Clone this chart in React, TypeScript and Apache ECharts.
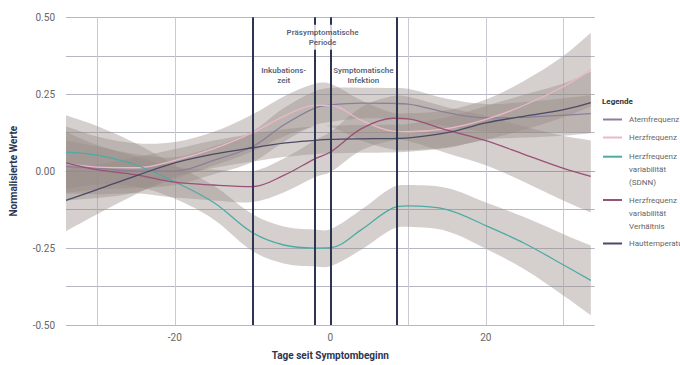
import React, { useEffect, useRef } from 'react';
import * as echarts from 'echarts';

// Days since symptom onset (x positions of the sampled values)
const days = [-34, -30, -25, -20, -15, -10, -6, -2, 0, 4, 8, 10, 15, 20, 25, 30, 33.5];

// Normalised values per series
const atemfrequenz = [0.015, 0.01, 0.0, 0.0, 0.035, 0.08, 0.15, 0.205, 0.215, 0.221, 0.22, 0.218, 0.19, 0.173, 0.175, 0.182, 0.187];
const herzfrequenz = [0.025, 0.013, 0.011, 0.035, 0.073, 0.125, 0.178, 0.214, 0.214, 0.165, 0.13, 0.128, 0.138, 0.168, 0.215, 0.275, 0.33];
const hrvSdnn = [0.062, 0.052, 0.02, -0.035, -0.102, -0.2, -0.24, -0.25, -0.249, -0.19, -0.12, -0.113, -0.125, -0.177, -0.235, -0.305, -0.355];
const hrvVerhaeltnis = [0.027, 0.005, -0.012, -0.036, -0.045, -0.05, -0.014, 0.04, 0.062, 0.138, 0.172, 0.17, 0.133, 0.099, 0.054, 0.009, -0.017];
const hauttemperatur = [-0.095, -0.06, -0.015, 0.027, 0.055, 0.076, 0.091, 0.1, 0.103, 0.105, 0.106, 0.108, 0.125, 0.157, 0.179, 0.2, 0.223];

// Half widths of the confidence bands
const atemBand = [0.085, 0.07, 0.055, 0.045, 0.045, 0.05, 0.055, 0.055, 0.055, 0.05, 0.05, 0.05, 0.045, 0.045, 0.05, 0.055, 0.06];
const herzBand = [0.12, 0.1, 0.08, 0.06, 0.055, 0.06, 0.065, 0.07, 0.07, 0.065, 0.06, 0.06, 0.06, 0.065, 0.08, 0.1, 0.12];
const sdnnBand = [0.12, 0.095, 0.07, 0.055, 0.055, 0.06, 0.06, 0.06, 0.06, 0.065, 0.068, 0.068, 0.07, 0.075, 0.085, 0.1, 0.113];
const verhBand = [0.1, 0.08, 0.06, 0.05, 0.05, 0.05, 0.055, 0.06, 0.065, 0.07, 0.072, 0.072, 0.075, 0.08, 0.09, 0.105, 0.117];
const hautBand = [0.1, 0.08, 0.06, 0.045, 0.045, 0.045, 0.045, 0.045, 0.045, 0.045, 0.045, 0.045, 0.05, 0.055, 0.07, 0.085, 0.1];

const seriesNames = [
  'Atemfrequenz',
  'Herzfrequenz',
  'Herzfrequenz\nvariabilität\n(SDNN)',
  'Herzfrequenz\nvariabilität\nVerhältnis',
  'Hauttemperatur',
];
const seriesValues = [atemfrequenz, herzfrequenz, hrvSdnn, hrvVerhaeltnis, hauttemperatur];
const seriesBands = [atemBand, herzBand, sdnnBand, verhBand, hautBand];
const seriesColors = ['#8a7e9c', '#edb7ca', '#4eaaa5', '#9a5077', '#4a4966'];

// Phase boundaries and labels
const phaseBounds = [-10, -2, 0, 8.5];
const phaseLabels = ['Inkubations-\nzeit', 'Präsymptomatische\nPeriode', 'Symptomatische\nInfektion'];

// Axis ticks
const xGridValues = [-30, -20, -10, 0, 10, 20, 30];
const xLabelValues = [-20, 0, 20];

// layout constants
const phaseLabelY = [0.311, 0.435, 0.311];
const legendTops = [113, 131, 124.2, 167.5, 237];
const FONT = 'Roboto, "Noto Sans", sans-serif';
const BAND_COLOR = 'rgba(150,138,132,0.40)';

function makeBand(name: string, center: number[], half: number[]) {
  return {
    type: 'custom',
    name,
    z: 2,
    silent: true,
    clip: true,
    data: days.map((d, i) => [d, center[i] - half[i], center[i] + half[i]]),
    encode: { x: 0, y: [1, 2] },
    renderItem: (params: any, api: any) => {
      if (params.dataIndex !== 0) return null;
      const up = days.map((d, i) => api.coord([d, center[i] + half[i]]));
      const lo = days.map((d, i) => api.coord([d, center[i] - half[i]])).reverse();
      const pts = [up[0], ...up, up[up.length - 1], lo[0], ...lo, lo[lo.length - 1]];
      return {
        type: 'polygon',
        shape: { points: pts, smooth: 0.35 },
        style: { fill: BAND_COLOR },
      };
    },
  };
}

export default function App() {
  const ref = useRef<HTMLDivElement>(null);

  useEffect(() => {
    if (!ref.current) return;
    const chart = echarts.init(ref.current, null, { renderer: 'svg' });

    const bands = seriesNames.map((n, i) => makeBand('band-' + i, seriesValues[i], seriesBands[i]));
    const lines = seriesNames.map((n, i) => ({
      type: 'line',
      name: n,
      data: days.map((d, j) => [d, seriesValues[i][j]]),
      smooth: 0.35,
      symbol: 'none',
      color: seriesColors[i],
      lineStyle: { width: 1.3, color: seriesColors[i] },
      z: 3,
      silent: true,
    }));

    // one legend per entry so multi-line names keep their icon on the first line
    const legends = seriesNames.map((n, i) => ({
      data: [n],
      orient: 'vertical',
      left: 603,
      top: legendTops[i],
      padding: 0,
      itemWidth: 19,
      itemHeight: 2,
      icon: 'rect',
      selectedMode: false,
      formatter: (name: string) => (name.includes('\n') ? '\n\n' + name : name),
      textStyle: {
        fontFamily: FONT,
        fontSize: 8,
        color: '#666',
        lineHeight: 13,
        padding: [0, 0, 0, 2],
      },
    }));

    const option: any = {
      animation: false,
      textStyle: { fontFamily: FONT },
      title: {
        text: 'Legende',
        left: 602,
        top: 97,
        padding: 0,
        textStyle: { fontFamily: FONT, fontSize: 8, fontWeight: 'bold', color: '#333' },
      },
      legend: legends,
      grid: { left: 64.3, right: 85.3, top: 17.3, bottom: 33.3, containLabel: false },
      xAxis: {
        type: 'value',
        min: -34,
        max: 34,
        interval: 2,
        name: 'Tage seit Symptombeginn',
        nameLocation: 'middle',
        nameGap: 25,
        nameTextStyle: { fontFamily: FONT, fontSize: 10, fontWeight: 'bold', color: '#2d3550' },
        axisLine: { show: true, lineStyle: { color: '#a9abb8', width: 1 } },
        axisTick: { show: false },
        splitLine: { show: false },
        axisLabel: {
          margin: 7,
          fontSize: 10,
          color: '#666',
          formatter: (v: number) => (xLabelValues.includes(v) ? String(v) : ''),
        },
      },
      yAxis: {
        type: 'value',
        min: -0.5,
        max: 0.5,
        interval: 0.125,
        name: 'Normalisierte Werte',
        nameLocation: 'middle',
        nameGap: 48,
        nameTextStyle: { fontFamily: FONT, fontSize: 10, fontWeight: 'bold', color: '#2d3550' },
        axisLine: { show: false },
        axisTick: { show: false },
        splitLine: { show: true, lineStyle: { color: '#b5b7c3', width: 1 } },
        axisLabel: {
          margin: 11,
          fontSize: 10,
          color: '#666',
          formatter: (v: number) => (Math.abs(v * 4 - Math.round(v * 4)) < 1e-9 ? v.toFixed(2) : ''),
        },
      },
      series: [
        {
          type: 'line',
          name: 'xgrid',
          data: [],
          silent: true,
          markLine: {
            z: 1,
            silent: true,
            animation: false,
            symbol: ['none', 'none'],
            label: { show: false },
            lineStyle: { color: '#c9cad4', width: 1, type: 'solid' },
            data: xGridValues.map((v) => ({ xAxis: v })),
          },
        },
        ...bands,
        ...lines,
        {
          type: 'line',
          name: 'phases',
          data: [],
          silent: true,
          markLine: {
            z: 4,
            silent: true,
            animation: false,
            symbol: ['none', 'none'],
            label: { show: false },
            lineStyle: { color: '#2e3553', width: 2, type: 'solid' },
            emphasis: { disabled: true },
            data: phaseBounds.map((v) => ({ xAxis: v })),
          },
        },
        {
          type: 'scatter',
          name: 'phaseLabels',
          z: 6,
          symbolSize: 0,
          silent: true,
          data: phaseLabels.map((t, i) => ({
            name: t,
            value: [(phaseBounds[i] + phaseBounds[i + 1]) / 2, phaseLabelY[i]],
            label: i === 1 ? { backgroundColor: '#ffffff', padding: [2, 2] } : {},
          })),
          label: {
            show: true,
            position: 'inside',
            formatter: (p: any) => p.name,
            fontFamily: FONT,
            fontSize: 8,
            fontWeight: 600,
            color: '#2e3553',
            lineHeight: 10.5,
            align: 'center',
          },
        },
      ],
    };

    chart.setOption(option);
    return () => chart.dispose();
  }, []);

  return (
    <div
      ref={ref}
      style={{ position: 'absolute', left: 0, top: 0, width: 680, height: 365, background: '#fff' }}
    />
  );
}
